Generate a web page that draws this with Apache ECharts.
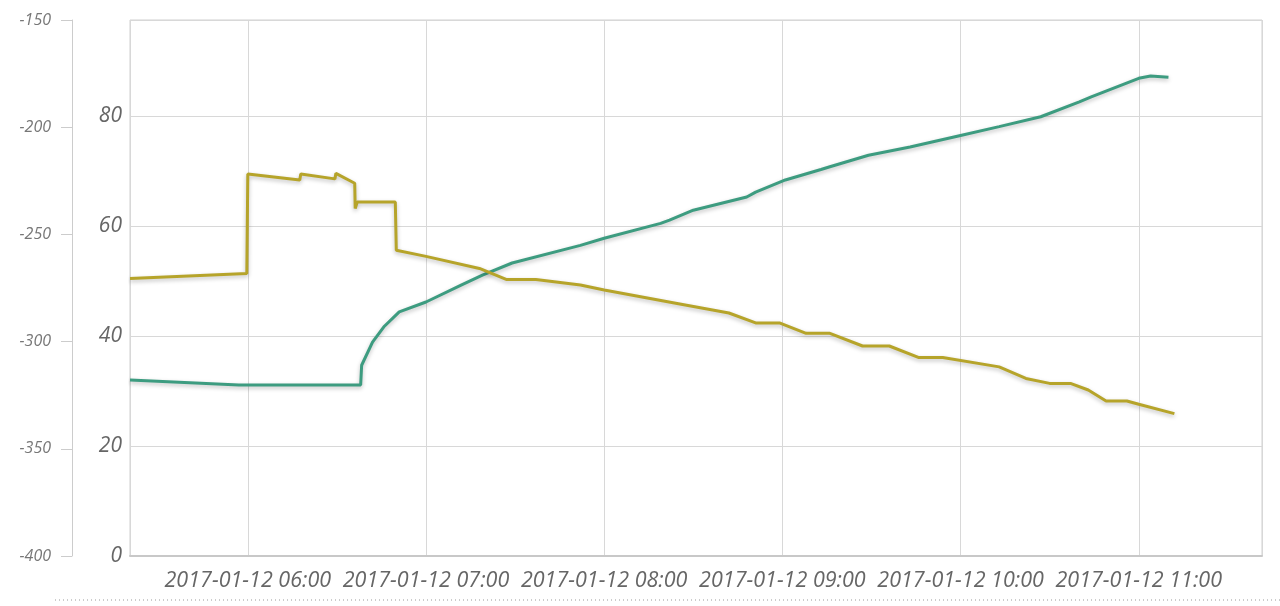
<!DOCTYPE html>
<html>
<head>
<meta charset="utf-8">
<script src="https://cdn.jsdelivr.net/npm/echarts@6/dist/echarts.min.js"></script>
<style>
  html, body { margin: 0; padding: 0; background: #ffffff; }
  #chart { width: 1280px; height: 606px; }
</style>
</head>
<body>
<div id="chart"></div>
<script>
const day = '2017-01-12 ';

const greenTimes = ['05:20:20','05:57','06:38','06:38:20','06:42','06:46','06:51','07:00','07:12','07:19','07:29','07:52','08:00','08:19','08:22','08:30','08:48','08:51','09:01','09:13','09:16','09:29','09:43','10:00','10:13','10:27','10:40','10:44','11:00','11:04','11:10'];
const greenValues = [32.0,31.1,31.1,34.7,38.9,41.8,44.4,46.2,49.3,51.1,53.3,56.5,57.8,60.5,61.1,62.9,65.3,66.2,68.4,70.3,70.8,72.9,74.4,76.5,78.1,79.9,82.6,83.5,86.9,87.3,87.1];

const yellowTimes = ['05:20:20','05:59:40','06:00','06:17:30','06:17:50','06:29:20','06:29:40','06:36:00','06:36:10','06:36:50','06:49:40','06:50:00','07:00','07:18','07:27','07:37','07:52','08:00','08:25','08:42','08:51','08:59','09:08','09:16','09:27','09:36','09:46','09:54','10:13','10:22','10:30','10:37','10:43','10:49','10:56','11:00','11:12'];
const yellowValues = [50.5,51.4,69.5,68.4,69.5,68.6,69.6,67.8,63.2,64.4,64.4,55.6,54.5,52.3,50.3,50.3,49.3,48.4,45.9,44.2,42.4,42.4,40.5,40.5,38.2,38.2,36.1,36.1,34.4,32.3,31.4,31.4,30.2,28.2,28.2,27.6,25.9];

const innerTicks = { min: 0, max: 97.5, interval: 20 };
const outerTicks = { min: -400, max: -150, interval: 50 };
const xRange = { min: '05:20:20', max: '11:41:30' };

function pairs(times, values) {
  return times.map((t, i) => [day + t, values[i]]);
}

const chart = echarts.init(document.getElementById('chart'));
const labelFont = '"Open Sans", "DejaVu Sans", sans-serif';

chart.setOption({
  animation: false,
  backgroundColor: '#ffffff',
  grid: {
    left: 130, right: 18, top: 20, bottom: 50,
    show: true, borderColor: '#d0d0d0', borderWidth: 1
  },
  xAxis: {
    type: 'time',
    min: day + xRange.min,
    max: day + xRange.max,
    minInterval: 3600000,
    maxInterval: 3600000,
    axisLine: { show: true, lineStyle: { color: '#c8c8c8', width: 2 } },
    axisTick: { show: false },
    splitLine: { show: true, lineStyle: { color: '#d8d8d8', width: 1 } },
    axisLabel: {
      color: '#666666', fontSize: 21.5, fontStyle: 'italic', fontFamily: labelFont,
      margin: 14, hideOverlap: false,
      formatter: function (v) { return echarts.time.format(v, '{yyyy}-{MM}-{dd} {HH}:{mm}', false); }
    }
  },
  yAxis: [
    {
      type: 'value',
      min: innerTicks.min, max: innerTicks.max, interval: innerTicks.interval,
      position: 'left',
      axisLine: { show: false },
      axisTick: { show: false },
      splitLine: { show: true, lineStyle: { color: '#d8d8d8', width: 1 } },
      axisLabel: {
        color: '#666666', fontSize: 21, fontStyle: 'italic', fontFamily: labelFont,
        margin: 8, showMaxLabel: false
      }
    },
    {
      type: 'value',
      min: outerTicks.min, max: outerTicks.max, interval: outerTicks.interval,
      position: 'left',
      offset: 58,
      axisLine: { show: true, lineStyle: { color: '#cccccc', width: 1 } },
      axisTick: { show: true, length: 11, lineStyle: { color: '#cccccc' } },
      splitLine: { show: false },
      axisLabel: {
        color: '#777777', fontSize: 16, fontStyle: 'italic', fontFamily: labelFont,
        margin: 21
      }
    }
  ],
  graphic: [{
    type: 'line',
    shape: { x1: 55, y1: 600, x2: 1280, y2: 600 },
    style: { stroke: '#999999', lineWidth: 1, lineDash: [1, 3] },
    silent: true
  }],
  series: [
    {
      name: 'green',
      type: 'line',
      yAxisIndex: 0,
      showSymbol: false,
      data: pairs(greenTimes, greenValues),
      lineStyle: { color: '#3d9c80', width: 3, shadowColor: 'rgba(0,0,0,0.25)', shadowBlur: 4, shadowOffsetY: 2 },
      itemStyle: { color: '#3d9c80' }
    },
    {
      name: 'yellow',
      type: 'line',
      yAxisIndex: 0,
      showSymbol: false,
      data: pairs(yellowTimes, yellowValues),
      lineStyle: { color: '#b6a42a', width: 3, shadowColor: 'rgba(0,0,0,0.25)', shadowBlur: 4, shadowOffsetY: 2 },
      itemStyle: { color: '#b6a42a' }
    }
  ]
});
</script>
</body>
</html>
